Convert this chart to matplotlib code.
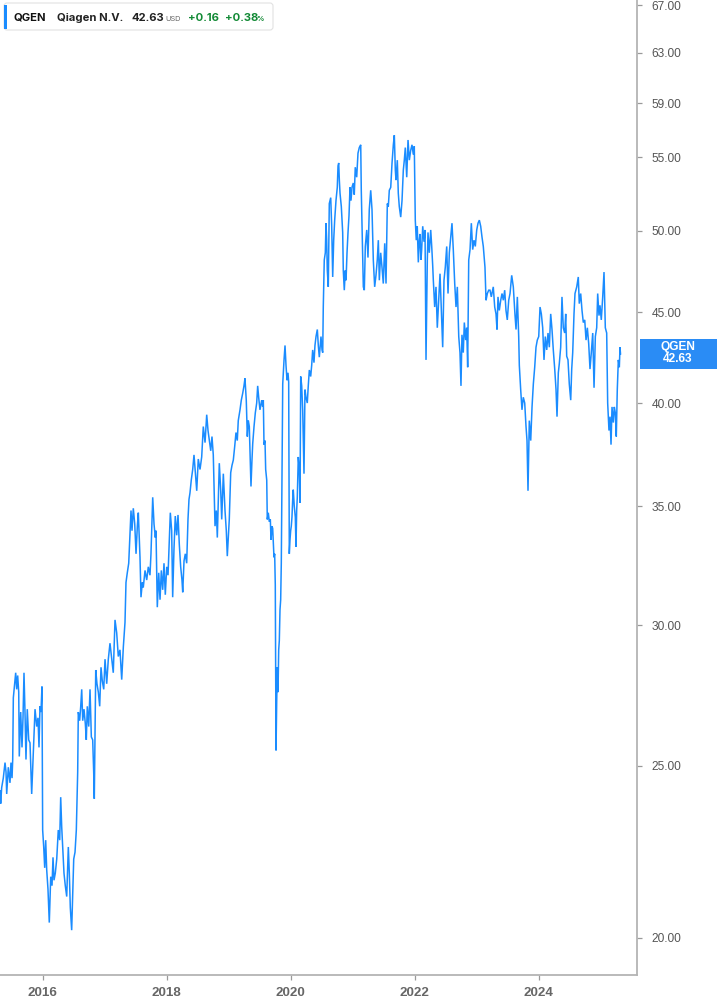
import matplotlib
matplotlib.use("Agg")
import matplotlib.pyplot as plt
from matplotlib.patches import FancyBboxPatch, Rectangle
from matplotlib.transforms import IdentityTransform
import matplotlib.ticker as mticker

# ---------------- data ----------------
t = [
    2015.311, 2015.322, 2015.338, 2015.364, 2015.392, 2015.408, 2015.419, 2015.445, 2015.472, 2015.488,
    2015.505, 2015.516, 2015.526, 2015.548, 2015.564, 2015.580, 2015.596, 2015.613, 2015.622, 2015.645,
    2015.666, 2015.682, 2015.698, 2015.714, 2015.730, 2015.751, 2015.774, 2015.795, 2015.811, 2015.822,
    2015.848, 2015.876, 2015.903, 2015.924, 2015.940, 2015.956, 2015.972, 2015.988, 2015.999, 2016.016,
    2016.032, 2016.048, 2016.064, 2016.085, 2016.106, 2016.129, 2016.150, 2016.166, 2016.182, 2016.203,
    2016.226, 2016.251, 2016.274, 2016.290, 2016.306, 2016.322, 2016.343, 2016.364, 2016.387, 2016.413,
    2016.429, 2016.445, 2016.467, 2016.484, 2016.500, 2016.521, 2016.542, 2016.564, 2016.574, 2016.596,
    2016.613, 2016.629, 2016.645, 2016.666, 2016.687, 2016.703, 2016.719, 2016.742, 2016.763, 2016.784,
    2016.806, 2016.822, 2016.832, 2016.855, 2016.875, 2016.897, 2016.919, 2016.940, 2016.961, 2016.984,
    2017.005, 2017.032, 2017.058, 2017.085, 2017.138, 2017.166, 2017.193, 2017.219, 2017.246, 2017.274,
    2017.300, 2017.327, 2017.343, 2017.364, 2017.387, 2017.408, 2017.424, 2017.440, 2017.461, 2017.484,
    2017.505, 2017.526, 2017.542, 2017.569, 2017.585, 2017.606, 2017.622, 2017.650, 2017.677, 2017.703,
    2017.730, 2017.746, 2017.763, 2017.774, 2017.795, 2017.816, 2017.827, 2017.848, 2017.871, 2017.892,
    2017.913, 2017.935, 2017.956, 2017.977, 2018.000, 2018.021, 2018.042, 2018.058, 2018.080, 2018.096,
    2018.117, 2018.138, 2018.161, 2018.182, 2018.203, 2018.225, 2018.246, 2018.258, 2018.279, 2018.300,
    2018.322, 2018.343, 2018.359, 2018.375, 2018.396, 2018.419, 2018.440, 2018.484, 2018.509, 2018.537,
    2018.564, 2018.590, 2018.618, 2018.645, 2018.666, 2018.687, 2018.710, 2018.730, 2018.751, 2018.779,
    2018.800, 2018.816, 2018.832, 2018.848, 2018.871, 2018.887, 2018.913, 2018.940, 2018.961, 2018.977,
    2019.009, 2019.032, 2019.053, 2019.074, 2019.096, 2019.117, 2019.138, 2019.154, 2019.182, 2019.203,
    2019.225, 2019.246, 2019.262, 2019.283, 2019.300, 2019.316, 2019.332, 2019.348, 2019.359, 2019.375,
    2019.387, 2019.408, 2019.429, 2019.451, 2019.467, 2019.483, 2019.504, 2019.532, 2019.548, 2019.558,
    2019.569, 2019.585, 2019.596, 2019.613, 2019.622, 2019.638, 2019.655, 2019.671, 2019.682, 2019.698,
    2019.709, 2019.730, 2019.741, 2019.751, 2019.763, 2019.774, 2019.784, 2019.795, 2019.806, 2019.816,
    2019.827, 2019.838, 2019.848, 2019.859, 2019.871, 2019.892, 2019.908, 2019.924, 2019.940, 2019.956,
    2019.967, 2019.977, 2019.988, 2019.999, 2020.009, 2020.020, 2020.032, 2020.041, 2020.057, 2020.074,
    2020.085, 2020.096, 2020.106, 2020.122, 2020.138, 2020.150, 2020.161, 2020.177, 2020.193, 2020.214,
    2020.230, 2020.246, 2020.267, 2020.283, 2020.300, 2020.322, 2020.338, 2020.354, 2020.375, 2020.391,
    2020.408, 2020.429, 2020.445, 2020.461, 2020.477, 2020.488, 2020.505, 2020.516, 2020.525, 2020.541,
    2020.558, 2020.569, 2020.580, 2020.590, 2020.606, 2020.622, 2020.645, 2020.661, 2020.677, 2020.693,
    2020.709, 2020.730, 2020.751, 2020.763, 2020.774, 2020.784, 2020.795, 2020.816, 2020.838, 2020.848,
    2020.864, 2020.880, 2020.892, 2020.908, 2020.924, 2020.940, 2020.956, 2020.972, 2020.988, 2021.009,
    2021.025, 2021.041, 2021.064, 2021.085, 2021.106, 2021.129, 2021.138, 2021.150, 2021.161, 2021.171,
    2021.187, 2021.203, 2021.226, 2021.246, 2021.267, 2021.290, 2021.311, 2021.332, 2021.354, 2021.375,
    2021.396, 2021.413, 2021.429, 2021.451, 2021.472, 2021.493, 2021.516, 2021.537, 2021.558, 2021.574,
    2021.590, 2021.613, 2021.634, 2021.655, 2021.671, 2021.687, 2021.698, 2021.719, 2021.735, 2021.751,
    2021.774, 2021.795, 2021.816, 2021.832, 2021.848, 2021.871, 2021.892, 2021.913, 2021.935, 2021.956,
    2021.977, 2021.993, 2022.009, 2022.025, 2022.041, 2022.058, 2022.074, 2022.085, 2022.101, 2022.112,
    2022.129, 2022.150, 2022.166, 2022.177, 2022.182, 2022.193, 2022.203, 2022.214, 2022.235, 2022.258,
    2022.274, 2022.290, 2022.300, 2022.322, 2022.343, 2022.364, 2022.387, 2022.408, 2022.429, 2022.451,
    2022.472, 2022.493, 2022.516, 2022.537, 2022.558, 2022.580, 2022.601, 2022.622, 2022.645, 2022.666,
    2022.687, 2022.710, 2022.730, 2022.746, 2022.762, 2022.783, 2022.800, 2022.822, 2022.838, 2022.854,
    2022.871, 2022.892, 2022.913, 2022.935, 2022.956, 2022.977, 2023.000, 2023.021, 2023.042, 2023.064,
    2023.085, 2023.106, 2023.133, 2023.150, 2023.171, 2023.193, 2023.214, 2023.235, 2023.267, 2023.290,
    2023.311, 2023.327, 2023.343, 2023.364, 2023.387, 2023.408, 2023.429, 2023.451, 2023.472, 2023.493,
    2023.516, 2023.537, 2023.564, 2023.590, 2023.618, 2023.634, 2023.655, 2023.677, 2023.687, 2023.709,
    2023.730, 2023.751, 2023.774, 2023.795, 2023.811, 2023.827, 2023.848, 2023.871, 2023.892, 2023.913,
    2023.935, 2023.956, 2023.977, 2024.000, 2024.021, 2024.042, 2024.064, 2024.085, 2024.106, 2024.129,
    2024.150, 2024.171, 2024.193, 2024.214, 2024.235, 2024.258, 2024.279, 2024.295, 2024.316, 2024.332,
    2024.354, 2024.375, 2024.396, 2024.419, 2024.435, 2024.451, 2024.472, 2024.493, 2024.516, 2024.532,
    2024.548, 2024.569, 2024.585, 2024.613, 2024.638, 2024.654, 2024.677, 2024.698, 2024.719, 2024.742,
    2024.763, 2024.784, 2024.806, 2024.827, 2024.848, 2024.871, 2024.892, 2024.913, 2024.935, 2024.951,
    2024.972, 2024.988, 2025.009, 2025.032, 2025.053, 2025.074, 2025.096, 2025.112, 2025.133, 2025.150,
    2025.166, 2025.182, 2025.203, 2025.219, 2025.235, 2025.251, 2025.267, 2025.284, 2025.300, 2025.311,
    2025.319,
]

price = [
    24.2, 23.8, 24.3, 24.6, 25.1, 24.8, 24.1, 24.95, 24.45, 25.1,
    24.6, 25.2, 27.3, 27.8, 28.2, 27.6, 28.1, 27.5, 25.3, 26.8,
    25.6, 26.6, 28.2, 26.8, 25.2, 26.9, 25.85, 25.75, 24.8, 24.1,
    25.4, 26.9, 26.3, 26.6, 25.6, 27.0, 26.8, 27.7, 23.0, 22.5,
    21.9, 22.7, 21.85, 21.3, 20.4, 21.65, 21.4, 22.2, 21.55, 21.75,
    22.15, 23.0, 22.7, 24.0, 23.1, 22.5, 21.75, 21.4, 21.1, 22.5,
    21.75, 20.8, 20.2, 21.2, 22.15, 22.35, 23.0, 24.8, 26.8, 26.5,
    27.0, 27.6, 26.5, 26.9, 26.4, 25.85, 27.0, 26.3, 27.6, 25.95,
    25.85, 24.8, 23.95, 28.3, 27.8, 27.5, 27.0, 28.4, 27.9, 27.6,
    28.7, 27.8, 28.7, 29.3, 28.2, 30.2, 29.7, 28.8, 29.05, 27.95,
    29.15, 30.1, 31.7, 32.1, 32.5, 33.8, 34.8, 33.9, 34.9, 34.2,
    32.9, 34.1, 34.7, 32.75, 31.1, 31.7, 31.5, 32.2, 31.8, 32.35,
    32.0, 32.9, 34.4, 35.4, 34.2, 33.6, 33.9, 30.7, 32.1, 31.0,
    32.2, 31.4, 32.5, 31.2, 32.35, 32.0, 33.5, 34.7, 33.9, 31.1,
    33.1, 34.55, 33.7, 34.6, 33.3, 32.35, 31.8, 31.3, 32.6, 32.9,
    32.5, 34.4, 35.3, 35.6, 36.2, 36.7, 37.4, 35.7, 37.2, 36.7,
    37.3, 38.8, 38.0, 39.4, 38.6, 38.1, 37.6, 38.3, 37.4, 34.1,
    34.8, 33.6, 35.3, 37.0, 35.7, 34.4, 36.5, 34.8, 33.9, 32.8,
    34.4, 36.55, 36.9, 37.15, 37.8, 38.5, 38.1, 39.1, 39.65, 40.15,
    40.5, 40.9, 41.3, 40.15, 38.3, 39.1, 38.8, 37.15, 35.9, 37.15,
    37.95, 38.8, 39.5, 40.0, 40.9, 40.3, 39.65, 40.15, 39.8, 40.15,
    37.9, 38.1, 36.7, 36.2, 34.4, 34.7, 34.3, 34.4, 33.5, 34.1,
    34.0, 32.75, 32.9, 31.6, 25.5, 27.2, 28.4, 27.5, 29.05, 29.4,
    30.6, 31.0, 32.5, 36.2, 41.0, 42.3, 43.1, 42.0, 41.2, 41.6,
    41.1, 32.9, 33.5, 33.9, 34.1, 34.5, 35.3, 35.75, 35.0, 34.5,
    33.2, 34.8, 35.4, 37.3, 36.7, 35.15, 41.4, 40.9, 39.65, 36.5,
    40.7, 40.3, 40.0, 40.9, 41.75, 41.4, 42.0, 42.85, 42.15, 43.1,
    43.6, 44.0, 43.1, 42.45, 43.1, 43.6, 42.85, 42.7, 45.3, 48.15,
    48.6, 50.5, 49.4, 47.5, 46.5, 51.8, 52.2, 50.3, 47.1, 49.4,
    50.7, 52.0, 52.9, 54.4, 54.6, 53.4, 52.5, 51.6, 49.9, 47.5,
    46.3, 47.5, 46.9, 48.6, 49.9, 51.0, 52.9, 52.0, 52.9, 53.2,
    52.4, 54.3, 53.6, 55.3, 55.7, 55.9, 52.7, 50.3, 48.15, 46.5,
    46.3, 49.0, 50.06, 48.3, 51.4, 52.7, 51.4, 48.15, 46.5, 47.2,
    48.15, 49.4, 46.9, 48.6, 47.7, 46.7, 49.2, 46.7, 51.8, 51.6,
    52.7, 52.9, 54.6, 55.9, 56.6, 54.1, 53.4, 54.8, 52.5, 51.6,
    50.9, 52.0, 54.1, 54.8, 55.7, 53.6, 56.25, 54.8, 55.5, 55.9,
    55.2, 55.8, 50.7, 49.4, 50.3, 48.0, 49.4, 49.8, 48.15, 48.8,
    50.3, 49.3, 50.06, 44.55, 42.3, 45.3, 48.15, 49.9, 48.6, 50.06,
    49.0, 47.8, 46.9, 45.3, 46.5, 44.1, 45.7, 47.3, 45.1, 43.0,
    46.9, 47.7, 49.0, 46.1, 48.6, 49.6, 50.5, 48.8, 46.7, 45.3,
    46.5, 43.6, 42.7, 40.9, 43.7, 42.7, 44.4, 43.4, 44.1, 41.9,
    48.15, 48.8, 50.5, 48.8, 49.4, 49.0, 50.06, 50.5, 50.7, 50.3,
    49.6, 49.0, 47.7, 45.7, 46.1, 46.3, 46.3, 45.9, 46.5, 45.3,
    44.9, 44.0, 45.9, 45.1, 45.7, 46.1, 45.7, 46.3, 45.1, 44.55,
    45.7, 46.1, 47.2, 46.5, 44.8, 44.0, 45.9, 43.6, 42.0, 40.7,
    39.65, 40.3, 40.0, 38.8, 38.1, 35.7, 39.1, 38.1, 39.8, 41.0,
    41.9, 43.0, 43.4, 43.6, 45.3, 44.9, 44.1, 42.3, 43.6, 42.85,
    43.8, 43.0, 44.9, 44.0, 42.85, 41.8, 40.7, 39.3, 41.6, 42.1,
    43.0, 45.9, 44.1, 43.8, 44.9, 42.5, 42.3, 41.0, 40.15, 41.8,
    42.7, 44.9, 46.1, 46.5, 47.1, 45.5, 46.1, 45.1, 44.4, 44.55,
    43.4, 44.1, 43.2, 41.8, 42.7, 43.8, 40.8, 43.6, 44.1, 46.1,
    44.8, 45.4, 44.55, 45.9, 47.4, 44.1, 43.8, 40.0, 38.6, 39.3,
    37.9, 39.8, 39.0, 39.8, 39.5, 38.3, 40.7, 42.3, 41.9, 43.0,
    42.63,
]

y_ticks = [20, 25, 30, 35, 40, 45, 50, 55, 59, 63, 67]
x_ticks = [2016, 2018, 2020, 2022, 2024]
symbol = "QGEN"
company = "Qiagen N.V."
last_price = 42.63
currency = "USD"
change_abs = "+0.16"
change_pct = "+0.38"

# ---------------- styling ----------------
LINE = "#1a8cff"
AXIS = "#b4b4b4"
GREEN = "#138a36"
W, H = 717, 1005

fig = plt.figure(figsize=(W / 100, H / 100), dpi=100)
ax = fig.add_axes([0, 30 / H, 637 / W, 1 - 30 / H])

ax.plot(t, price, color=LINE, lw=1.1, solid_joinstyle="miter")
ax.set_yscale("log")
ax.set_xlim(2015.311, 2025.585)
ax.set_ylim(19.06, 67.44)

ax.yaxis.set_major_locator(mticker.FixedLocator(y_ticks))
ax.yaxis.set_minor_locator(mticker.NullLocator())
ax.yaxis.set_major_formatter(mticker.FuncFormatter(lambda v, p: f"{v:.2f}"))
ax.yaxis.tick_right()
ax.set_xticks(x_ticks)
ax.set_xticklabels([str(y) for y in x_ticks])
ax.xaxis.set_minor_locator(mticker.NullLocator())

for s in ["left", "top"]:
    ax.spines[s].set_visible(False)
for s in ["right", "bottom"]:
    ax.spines[s].set_color(AXIS)
    ax.spines[s].set_linewidth(1.3)

ax.tick_params(axis="x", length=3.5, width=0.9, color="#9a9a9a", pad=5,
               labelsize=9.6, labelcolor="#666666")
for lab in ax.get_xticklabels():
    lab.set_fontfamily("Liberation Sans")
    lab.set_fontweight("bold")
ax.tick_params(axis="y", length=3.5, width=0.9, color="#9a9a9a", pad=7,
               labelsize=8.6, labelcolor="#555555")
for lab in ax.get_yticklabels():
    lab.set_fontfamily("Liberation Sans")

# ---------------- header legend box ----------------
idt = IdentityTransform()
box = FancyBboxPatch((4, H - 30), 269, 27, boxstyle="round,pad=0,rounding_size=3",
                     transform=idt, facecolor="white", edgecolor="#e2e2e2", lw=0.8)
fig.add_artist(box)
fig.add_artist(Rectangle((4, H - 29), 3, 24, transform=idt, facecolor=LINE, edgecolor="none"))

base = H - 20.7
hfont = "Inter"
hs = 8.1
fig.text(13, base, symbol, transform=idt, fontsize=hs, fontweight="bold", color="#111111",
         family=hfont, va="baseline")
fig.text(57, base, company, transform=idt, fontsize=hs, fontweight="bold", color="#222222",
         family=hfont, va="baseline")
fig.text(131, base, f"{last_price:.2f}", transform=idt, fontsize=hs, fontweight="bold",
         color="#222222", family=hfont, va="baseline")
fig.text(165, base, currency, transform=idt, fontsize=5.3, color="#666666",
         family=hfont, va="baseline")
fig.text(188, base, change_abs, transform=idt, fontsize=hs, fontweight="bold", color=GREEN,
         family=hfont, va="baseline")
fig.text(225, base, change_pct, transform=idt, fontsize=hs, fontweight="bold", color=GREEN,
         family=hfont, va="baseline")
fig.text(256.5, base, "%", transform=idt, fontsize=5.3, fontweight="bold", color=GREEN,
         family=hfont, va="baseline")

# ---------------- last price label on the right axis ----------------
yd = ax.transData.transform((t[-1], last_price))[1]
fig.add_artist(Rectangle((640, yd - 15), 77, 30, transform=idt, facecolor="#2a8cf5",
                         edgecolor="none"))
fig.text(678, yd + 6.5, symbol, transform=idt, fontsize=8.6, fontweight="bold", color="white",
         family="Liberation Sans", ha="center", va="center")
fig.text(678, yd - 5.5, f"{last_price:.2f}", transform=idt, fontsize=8.6, fontweight="bold",
         color="white", family="Liberation Sans", ha="center", va="center")

fig.savefig("out.png", dpi=100)
